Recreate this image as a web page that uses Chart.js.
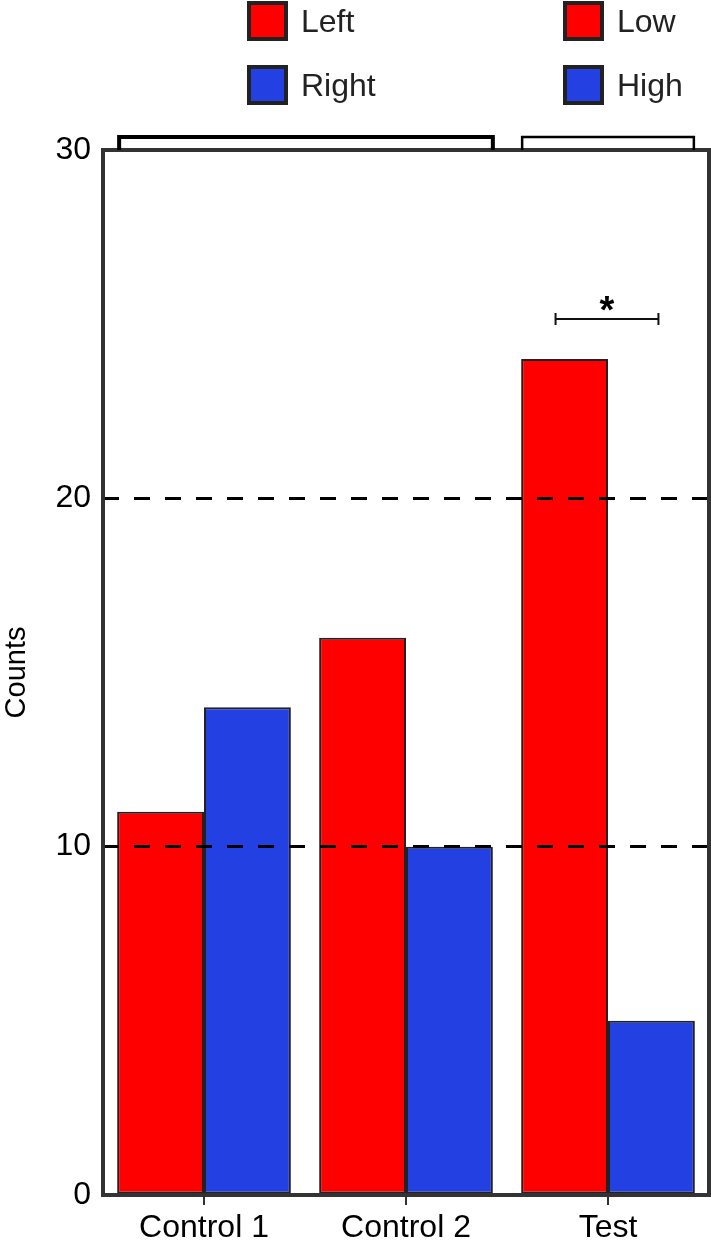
<!DOCTYPE html>
<html>
<head>
<meta charset="utf-8">
<script src="https://cdn.jsdelivr.net/npm/chart.js@4.4.1/dist/chart.umd.min.js"></script>
<style>
  html, body { margin: 0; padding: 0; background: #fff; }
  #wrap { width: 711px; height: 1253px; position: relative; }
</style>
</head>
<body>
<div id="wrap"><canvas id="myChart" width="711" height="1253"></canvas></div>
<script>
const categories = ['Control 1', 'Control 2', 'Test'];
const redValues = [11, 16, 24];
const blueValues = [14, 10, 5];
const legendLeft = ['Left', 'Right'];
const legendRight = ['Low', 'High'];
const yTicks = [0, 10, 20, 30];
const sigLabel = '*';
const sigLevel = 25.15; // y value of the significance bar
const yTitle = 'Counts';

const RED = '#ff0000';
const BLUE = '#2340e2';
const EDGE = '#222222';
const FONT = "'Liberation Sans', Arial, sans-serif";

// draws the frame, the group brackets, the legends and the significance mark
const decorations = {
  id: 'decorations',
  afterDraw(chart) {
    const ctx = chart.ctx;
    const a = chart.chartArea;
    const y = chart.scales.y;
    const red = chart.getDatasetMeta(0).data;
    const blue = chart.getDatasetMeta(1).data;
    ctx.save();

    // frame
    ctx.strokeStyle = '#333';
    ctx.lineWidth = 4;
    ctx.strokeRect(a.left, a.top, a.right - a.left, a.bottom - a.top);

    // brackets above the plot
    const bracket = (x0, x1, w) => {
      ctx.lineWidth = w;
      ctx.strokeStyle = '#000';
      ctx.beginPath();
      ctx.moveTo(x0, a.top);
      ctx.lineTo(x0, a.top - 13);
      ctx.lineTo(x1, a.top - 13);
      ctx.lineTo(x1, a.top);
      ctx.stroke();
    };
    bracket(red[0].x - red[0].width / 2 + 2, blue[1].x + blue[1].width / 2, 4);
    bracket(red[2].x - red[2].width / 2 + 1, blue[2].x + blue[2].width / 2 - 1, 2.5);

    // significance bar over Test
    const sy = y.getPixelForValue(sigLevel);
    const sx0 = red[2].x - 9, sx1 = blue[2].x + 7;
    ctx.strokeStyle = '#111';
    ctx.lineWidth = 2;
    ctx.beginPath();
    ctx.moveTo(sx0, sy); ctx.lineTo(sx1, sy);
    ctx.moveTo(sx0, sy - 6); ctx.lineTo(sx0, sy + 6);
    ctx.moveTo(sx1, sy - 6); ctx.lineTo(sx1, sy + 6);
    ctx.stroke();
    ctx.fillStyle = '#000';
    ctx.font = 'bold 38px ' + FONT;
    ctx.textAlign = 'center';
    ctx.textBaseline = 'alphabetic';
    ctx.fillText(sigLabel, (sx0 + sx1) / 2, sy + 4);

    // legends (two columns)
    const drawLegend = (labels, bx) => {
      labels.forEach((t, i) => {
        const by = 3 + i * 64;
        ctx.fillStyle = i === 0 ? RED : BLUE;
        ctx.fillRect(bx, by, 37, 36);
        ctx.strokeStyle = EDGE;
        ctx.lineWidth = 4;
        ctx.strokeRect(bx, by, 37, 36);
        ctx.fillStyle = '#222';
        ctx.font = '32px ' + FONT;
        ctx.textAlign = 'left';
        ctx.textBaseline = 'middle';
        ctx.fillText(t, bx + 52, by + 20);
      });
    };
    drawLegend(legendLeft, 249);
    drawLegend(legendRight, 565);

    ctx.restore();
  }
};

const ctx = document.getElementById('myChart').getContext('2d');

const myChart = new Chart(ctx, {
  type: 'bar',
  data: {
    labels: categories,
    datasets: [
      {
        label: legendLeft[0],
        data: redValues,
        backgroundColor: RED,
        borderColor: EDGE,
        borderWidth: 2,
        borderSkipped: false
      },
      {
        label: legendLeft[1],
        data: blueValues,
        backgroundColor: BLUE,
        borderColor: EDGE,
        borderWidth: 2,
        borderSkipped: false
      }
    ]
  },
  options: {
    responsive: false,
    animation: false,
    layout: { padding: { top: 150, right: 2, left: 0, bottom: 0 } },
    plugins: {
      legend: { display: false },
      tooltip: { enabled: false }
    },
    datasets: {
      bar: { categoryPercentage: 0.86, barPercentage: 1.0 }
    },
    scales: {
      x: {
        grid: {
          offset: false,
          drawOnChartArea: false,
          drawTicks: true,
          tickLength: 10,
          color: '#333',
          lineWidth: 2
        },
        border: { display: false },
        ticks: {
          color: '#000',
          font: { family: FONT, size: 32 },
          padding: 4
        },
        afterFit(scale) { scale.height = 58; }
      },
      y: {
        min: 0,
        max: 30,
        afterBuildTicks(scale) {
          scale.ticks = yTicks.map(v => ({ value: v }));
        },
        grid: {
          z: 1, // dashed lines sit on top of the bars
          drawTicks: false,
          color: c => (c.tick && (c.tick.value === 10 || c.tick.value === 20)) ? '#000' : 'rgba(0,0,0,0)',
          lineWidth: 3
        },
        border: { display: false, dash: [16, 15] },
        ticks: {
          color: '#000',
          font: { family: FONT, size: 32 },
          padding: 12
        },
        title: {
          display: true,
          text: yTitle,
          color: '#000',
          font: { family: FONT, size: 29 },
          padding: { top: 0, bottom: 0 }
        },
        afterFit(scale) { scale.width = 103; }
      }
    }
  },
  plugins: [decorations]
});
</script>
</body>
</html>
